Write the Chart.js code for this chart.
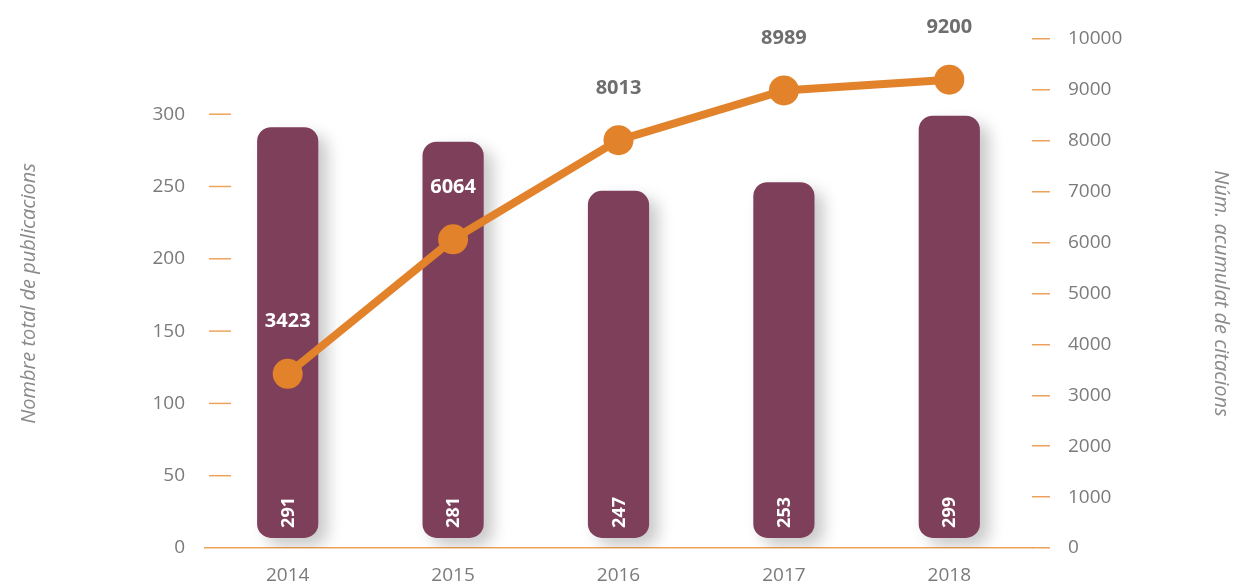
<!DOCTYPE html>
<html>
<head>
<meta charset="utf-8">
<script src="https://cdn.jsdelivr.net/npm/chart.js@4/dist/chart.umd.min.js"></script>
<style>
  html, body { margin: 0; padding: 0; background: #fff; }
  #wrap { width: 1237px; height: 585px; }
</style>
</head>
<body>
<div id="wrap"><canvas id="pubChart"></canvas></div>
<script>
var years = ["2014", "2015", "2016", "2017", "2018"];
var publications = [291, 281, 247, 253, 299];
var citations = [3423, 6064, 8013, 8989, 9200];
var leftTicks = [0, 50, 100, 150, 200, 250, 300];

var purple = "#7e3f5b";
var orange = "#e2822a";
var grey = "#7b7b7b";
var fontFam = "'Open Sans', 'DejaVu Sans', sans-serif";

// shadow under the bars
var barShadow = {
  id: 'barShadow',
  beforeDatasetDraw: function(chart, args) {
    if (args.index !== 1) return;
    var ctx = chart.ctx;
    ctx.save();
    ctx.shadowColor = "rgba(0,0,0,0.22)";
    ctx.shadowBlur = 16;
    ctx.shadowOffsetX = 9;
    ctx.shadowOffsetY = 8;
  },
  afterDatasetDraw: function(chart, args) {
    if (args.index !== 1) return;
    chart.ctx.restore();
  }
};

// left tick dashes inside the chart area + labels
var extras = {
  id: 'extras',
  afterDraw: function(chart) {
    var ctx = chart.ctx;
    var area = chart.chartArea;
    var yL = chart.scales.y;
    ctx.save();
    ctx.strokeStyle = "#eea35c";
    ctx.lineWidth = 1.5;
    leftTicks.forEach(function(v) {
      if (v === 0) return;
      var y = yL.getPixelForValue(v);
      ctx.beginPath();
      ctx.moveTo(area.left + 4, y);
      ctx.lineTo(area.left + 26, y);
      ctx.stroke();
    });

    // bar values, rotated
    var barMeta = chart.getDatasetMeta(1);
    ctx.fillStyle = "#fff";
    ctx.font = "bold 18px " + fontFam;
    ctx.textAlign = "left";
    ctx.textBaseline = "middle";
    barMeta.data.forEach(function(bar, i) {
      ctx.save();
      ctx.translate(bar.x + 1, bar.base - 10);
      ctx.rotate(-Math.PI / 2);
      ctx.fillText(String(publications[i]), 0, 0);
      ctx.restore();
    });

    // line values above points
    var lineMeta = chart.getDatasetMeta(0);
    ctx.font = "bold 20px " + fontFam;
    ctx.textAlign = "center";
    ctx.textBaseline = "middle";
    lineMeta.data.forEach(function(pt, i) {
      var ly = pt.y - 52;
      var bar = barMeta.data[i];
      ctx.fillStyle = (ly > bar.y + 8) ? "#fff" : "#6e6e6e";
      ctx.fillText(String(citations[i]), pt.x, ly);
    });
    ctx.restore();
  }
};

var ctx = document.getElementById('pubChart').getContext('2d');

var data = {
  labels: years,
  datasets: [
    {
      type: 'line',
      label: "Núm. acumulat de citacions",
      data: citations,
      yAxisID: 'y1',
      borderColor: orange,
      backgroundColor: orange,
      borderWidth: 8,
      pointRadius: 15,
      pointHoverRadius: 15,
      pointBorderWidth: 0,
      tension: 0,
      fill: false,
      order: 0
    },
    {
      type: 'bar',
      label: "Nombre total de publicacions",
      data: publications,
      yAxisID: 'y',
      base: 7,
      backgroundColor: purple,
      borderRadius: 14,
      borderSkipped: false,
      barPercentage: 0.74,
      categoryPercentage: 0.5,
      order: 1
    }
  ]
};

var options = {
  responsive: true,
  maintainAspectRatio: false,
  animation: false,
  layout: { padding: { top: 39, bottom: 0, left: 13, right: 0 } },
  plugins: {
    legend: { display: false },
    tooltip: { enabled: false }
  },
  scales: {
    x: {
      offset: true,
      grid: { display: false },
      border: { display: true, color: "#eea35c", width: 1.5 },
      ticks: { color: grey, font: { family: fontFam, size: 19 }, padding: 8 },
      afterFit: function(scale) { scale.height = 37; }
    },
    y: {
      position: 'left',
      min: 0,
      max: 352,
      grid: { display: false },
      border: { display: false },
      ticks: { color: grey, font: { family: fontFam, size: 19 }, padding: 12, stepSize: 50 },
      afterBuildTicks: function(scale) {
        scale.ticks = leftTicks.map(function(v) { return { value: v }; });
      },
      title: {
        display: true,
        text: "Nombre total de publicacions",
        color: "#8a8a8a",
        font: { family: fontFam, size: 20, style: 'italic' }
      },
      afterFit: function(scale) { scale.width = 192; }
    },
    y1: {
      position: 'right',
      min: 0,
      max: 10000,
      grid: { display: true, drawOnChartArea: false, color: "#eea35c", lineWidth: 1.5, tickLength: 18 },
      border: { display: false },
      ticks: {
        color: grey, font: { family: fontFam, size: 19 }, padding: 18, stepSize: 1000,
        callback: function(v) { return String(v); }
      },
      title: {
        display: true,
        text: "Núm. acumulat de citacions",
        color: "#8a8a8a",
        font: { family: fontFam, size: 20, style: 'italic' }
      },
      afterFit: function(scale) { scale.width = 205; }
    }
  }
};

var myChart = new Chart(ctx, {
  type: 'bar',
  data: data,
  options: options,
  plugins: [barShadow, extras]
});
</script>
</body>
</html>
